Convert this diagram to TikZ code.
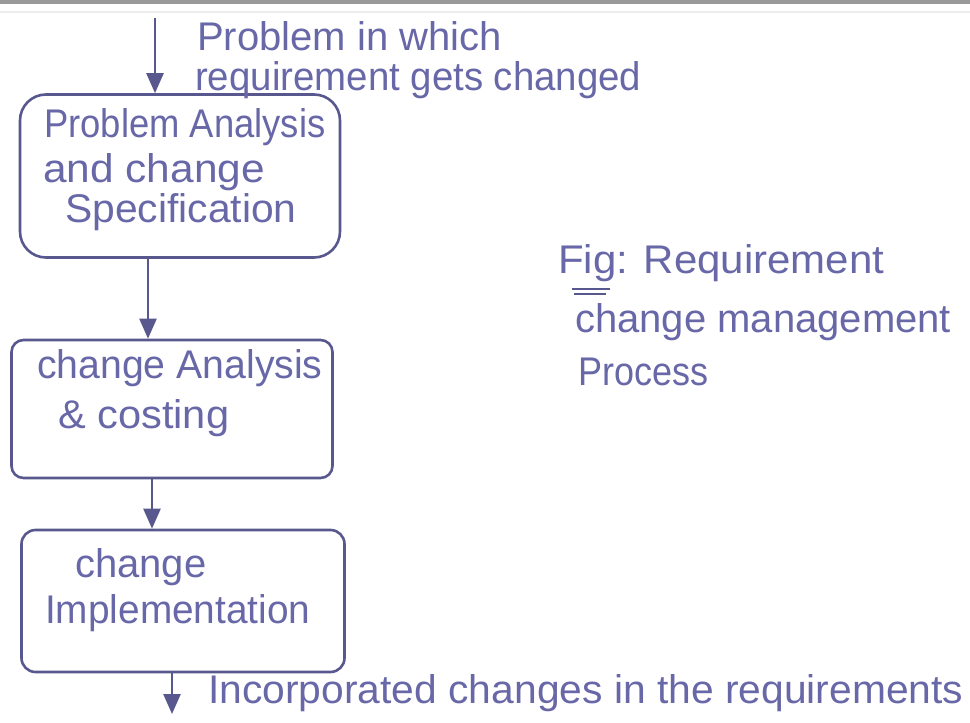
\documentclass[tikz,border=0pt]{standalone}
\usepackage{fontspec}
\usepackage{graphicx}
\setmainfont{Liberation Sans}
\usetikzlibrary{arrows.meta}
\definecolor{ink}{RGB}{104,104,168}
\definecolor{pen}{RGB}{88,88,142}
% horizontal stretch of one line of text
\newcommand\wide[2]{\scalebox{#1}[1]{#2}}
\begin{document}
\begin{tikzpicture}[x=1pt,y=-1pt,
  every node/.style={text=ink, font=\fontsize{40}{46}\selectfont},
  stepbox/.style={draw=pen, line width=2.6pt, rounded corners=#1, inner sep=0pt},
  flow/.style={draw=pen, line width=2.4pt, -{Triangle[length=20pt,width=17pt]}},
  label/.style={anchor=base west, inner sep=0pt}]
  % page frame
  \useasboundingbox (0,0) rectangle (970,723);
  \fill[white] (0,0) rectangle (970,723);
  \draw[gray!80, line width=4pt] (0,2) -- (970,2);
  \draw[gray!15, line width=1.5pt] (0,12) -- (970,12);

  % process steps
  \node[stepbox=26pt, minimum width=320pt, minimum height=163pt] (b1) at (180,176) {};
  \node[stepbox=12pt, minimum width=321pt, minimum height=138pt] (b2) at (172,409) {};
  \node[stepbox=14pt, minimum width=323pt, minimum height=142pt] (b3) at (183,601) {};

  % text of the steps
  \node[label] (b1a) at (44,137)  {\wide{0.91}{Problem Analysis}};
  \node[label] (b1b) at (43,182)  {\wide{1.06}{and change}};
  \node[label] (b1c) at (65,222)  {\wide{1.02}{Specification}};
  \node[label] (b2a) at (37,378)  {\wide{0.98}{change Analysis}};
  \node[label] (b2b) at (58,428)  {\wide{1.04}{\& costing}};
  \node[label] (b3a) at (75,577)  {change};
  \node[label] (b3b) at (45,623)  {\wide{0.97}{Implementation}};

  % connectors
  \coordinate (in) at (155,18);
  \coordinate (out) at (172,714);
  \draw[flow] (in) -- (in |- b1.north);
  \draw[flow] ([xshift=-32pt]b1.south) -- ([xshift=-24pt]b2.north);
  \draw[flow] ([xshift=-20pt]b2.south) -- ([xshift=-31pt]b3.north);
  \draw[flow] (out |- b3.south) -- (out);

  % labels
  \node[label] (t1) at (197,50)  {Problem in which};
  \node[label] (t2) at (195,90)  {\wide{0.96}{requirement gets changed}};
  \node[label] (t3) at (208,703) {\wide{1.02}{Incorporated changes in the requirements}};
  \node[label] (f1) at (558,273) {\wide{1.05}{Fig: Requirement}};
  \node[label] (f2) at (575,332) {\wide{1.0}{change management}};
  \node[label] (f3) at (578,385) {\wide{0.9}{Process}};
  \draw[pen, line width=2pt] (572,289) -- (610,289);
  \draw[pen, line width=2pt] (574,294) -- (606,294);
\end{tikzpicture}
\end{document}
